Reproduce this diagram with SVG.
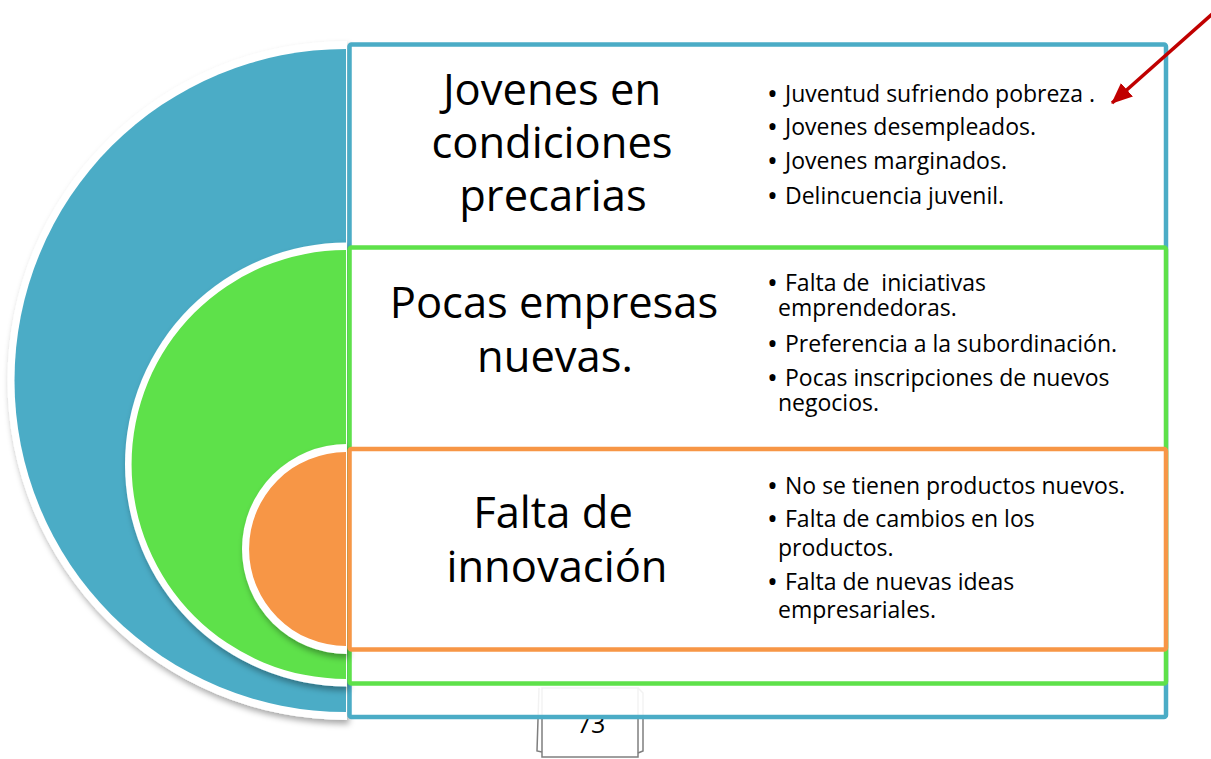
<svg xmlns="http://www.w3.org/2000/svg" width="1211" height="759" viewBox="0 0 1211 759">
<defs>
<filter id="sh" x="-10%" y="-10%" width="130%" height="130%">
<feDropShadow dx="2" dy="4" stdDeviation="3" flood-color="#000" flood-opacity="0.35"/>
</filter>
<marker id="ah" markerUnits="userSpaceOnUse" markerWidth="24" markerHeight="20" refX="20" refY="9" orient="auto">
<path d="M0,0 L21,9 L0,18 Z" fill="#C00000"/>
</marker>
<style>
.t{font-family:"Open Sans","Liberation Sans",sans-serif;fill:#000;}
.title{font-size:43.5px;text-anchor:middle;}
.b{font-size:23px;white-space:pre;}
.dot{font-size:29px;}
.ring{fill:#fff;filter:url(#sh);}
.frame{fill:#fff;fill-opacity:0.9;stroke-width:4.5;}
.pg{fill:none;stroke:#7f7f7f;stroke-width:1.5;}
</style>
</defs>
<rect width="1211" height="759" fill="#fff"/>

<g id="page-number">
<polyline class="pg" points="539,688 537,751 542,752"/>
<polyline class="pg" points="638,688 643,693 643,751 638,753"/>
<rect class="pg" x="542" y="688" width="96" height="69" fill="#fff"/>
<text class="t" x="591" y="733" font-size="25" text-anchor="middle">73</text>
</g>

<g id="node-jovenes">
<path class="ring" d="M347,41 A339.5,339.5 0 0 0 347,720 Z"/>
<path d="M346,49 A331.5,331.5 0 0 0 346,712 Z" fill="#4BACC6"/>
<rect class="frame" x="349.5" y="44.5" width="816.5" height="672.5" rx="2" stroke="#4BACC6"/>
<text class="t title" x="552" y="105">Jovenes en</text>
<text class="t title" x="552" y="158">condiciones</text>
<text class="t title" x="553" y="211">precarias</text>
<text class="t b" x="767" y="102"><tspan class="dot" dy="2">•</tspan><tspan x="785" dy="-2">Juventud sufriendo pobreza .</tspan></text>
<text class="t b" x="767" y="135"><tspan class="dot" dy="2">•</tspan><tspan x="785" dy="-2">Jovenes desempleados.</tspan></text>
<text class="t b" x="767" y="169"><tspan class="dot" dy="2">•</tspan><tspan x="785" dy="-2">Jovenes marginados.</tspan></text>
<text class="t b" x="767" y="204"><tspan class="dot" dy="2">•</tspan><tspan x="785" dy="-2">Delincuencia juvenil.</tspan></text>
</g>

<g id="node-pocas">
<path class="ring" d="M347,242.5 A222,222 0 0 0 347,686.5 Z"/>
<path d="M346,250 A214.5,214.5 0 0 0 346,679 Z" fill="#5EE14A"/>
<rect class="frame" x="349.5" y="247.5" width="816.5" height="436" rx="2" stroke="#5EE14A"/>
<text class="t title" x="554" y="318">Pocas empresas</text>
<text class="t title" x="555" y="372">nuevas.</text>
<text class="t b" x="767" y="291"><tspan class="dot" dy="2">•</tspan><tspan x="785" dy="-2">Falta de  iniciativas</tspan><tspan x="778" y="316">emprendedoras.</tspan></text>
<text class="t b" x="767" y="352"><tspan class="dot" dy="2">•</tspan><tspan x="785" dy="-2">Preferencia a la subordinación.</tspan></text>
<text class="t b" x="767" y="386"><tspan class="dot" dy="2">•</tspan><tspan x="785" dy="-2">Pocas inscripciones de nuevos</tspan><tspan x="778" y="411">negocios.</tspan></text>
</g>

<g id="node-falta">
<path class="ring" d="M347,444 A105,105 0 0 0 347,654 Z"/>
<path d="M346,452 A97,97 0 0 0 346,646 Z" fill="#F79646"/>
<rect class="frame" x="349.5" y="449" width="816.5" height="200.5" rx="2" stroke="#F79646"/>
<text class="t title" x="553" y="528">Falta de</text>
<text class="t title" x="557" y="582">innovación</text>
<text class="t b" x="767" y="494"><tspan class="dot" dy="2">•</tspan><tspan x="785" dy="-2">No se tienen productos nuevos.</tspan></text>
<text class="t b" x="767" y="527"><tspan class="dot" dy="2">•</tspan><tspan x="785" dy="-2">Falta de cambios en los</tspan><tspan x="778" y="556">productos.</tspan></text>
<text class="t b" x="767" y="590"><tspan class="dot" dy="2">•</tspan><tspan x="785" dy="-2">Falta de nuevas ideas</tspan><tspan x="778" y="618">empresariales.</tspan></text>
</g>

<g id="connectors">
<line x1="1228" y1="0" x2="1112" y2="103" stroke="#C00000" stroke-width="3.5" marker-end="url(#ah)"/>
</g>
</svg>
